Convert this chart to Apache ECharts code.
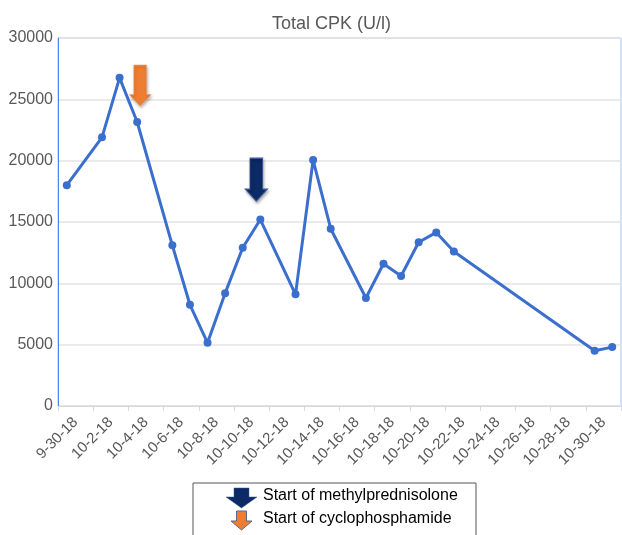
<!DOCTYPE html>
<html>
<head>
<meta charset="utf-8">
<script src="https://cdn.jsdelivr.net/npm/echarts@6/dist/echarts.min.js"></script>
<style>
html,body{margin:0;padding:0;background:#fff;}
#chart{width:622px;height:535px;}
</style>
</head>
<body>
<div id="chart"></div>
<script>
// Days on the date axis (one category per day)
var days = ['9-30-18','10-1-18','10-2-18','10-3-18','10-4-18','10-5-18','10-6-18','10-7-18',
  '10-8-18','10-9-18','10-10-18','10-11-18','10-12-18','10-13-18','10-14-18','10-15-18',
  '10-16-18','10-17-18','10-18-18','10-19-18','10-20-18','10-21-18','10-22-18','10-23-18',
  '10-24-18','10-25-18','10-26-18','10-27-18','10-28-18','10-29-18','10-30-18','10-31-18'];
// Total CPK (U/l); null = no measurement that day
var cpk = [18000, null, 21900, 26750, 23150, null, 13100, 8250,
  5150, 9200, 12900, 15200, null, 9100, 20050, 14450,
  null, 8800, 11600, 10600, 13350, 14150, 12600, null,
  null, null, null, null, null, null, 4500, 4800];
// Tick labels (every 2 days)
var tickLabels = ['9-30-18','10-2-18','10-4-18','10-6-18','10-8-18','10-10-18','10-12-18','10-14-18',
  '10-16-18','10-18-18','10-20-18','10-22-18','10-24-18','10-26-18','10-28-18','10-30-18'];
var yTicks = [0, 5000, 10000, 15000, 20000, 25000, 30000];
// Treatment start markers
var cycloDay = '10-4-18', cycloLevel = 26130;
var methylDay = '10-11-18', methylLevel = 18450;
var legendItems = ['Start of methylprednisolone', 'Start of cyclophosphamide'];

var FONT = 'Liberation Sans, Arial, Helvetica, sans-serif';
var arrowPath = 'path://M21,0 L79,0 L79,72 L100,72 L50,100 L0,72 L21,72 Z';

var chart = echarts.init(document.getElementById('chart'), null, {renderer: 'canvas'});
chart.setOption({
  animation: false,
  backgroundColor: '#ffffff',
  textStyle: {fontFamily: FONT},
  title: {
    text: 'Total CPK (U/l)',
    left: 267, top: 10,
    textStyle: {fontFamily: FONT, fontSize: 18, fontWeight: 'normal', color: '#595959'}
  },
  grid: {
    left: 58, right: 1, top: 38, bottom: 129,
    show: true, borderColor: '#a9c4f0', borderWidth: 1, backgroundColor: 'transparent'
  },
  xAxis: [{
    type: 'category', data: days, boundaryGap: true, position: 'bottom',
    axisLine: {show: false}, axisTick: {show: false}, axisLabel: {show: false},
    splitLine: {show: false}
  }, {
    type: 'category', data: tickLabels, boundaryGap: true, position: 'bottom',
    axisLine: {show: true, lineStyle: {color: '#d9d9d9', width: 1}},
    axisTick: {show: true, length: 5, lineStyle: {color: '#d9d9d9'}},
    axisLabel: {rotate: 45, margin: 14, fontSize: 15, color: '#595959', fontFamily: FONT, interval: 0},
    splitLine: {show: false}
  }],
  yAxis: {
    type: 'value', min: 0, max: 30000, interval: 5000,
    axisLine: {show: true, lineStyle: {color: '#4a86e8', width: 1}},
    axisTick: {show: false},
    axisLabel: {fontSize: 16, color: '#595959', margin: 5, fontFamily: FONT,
      formatter: function (v) { return String(v); }},
    splitLine: {show: true, lineStyle: {color: '#e3e3e3', width: 1.5}}
  },
  series: [{
    type: 'line', xAxisIndex: 0, data: cpk, connectNulls: true,
    symbol: 'circle', symbolSize: 8, showSymbol: true,
    lineStyle: {color: '#3b6fce', width: 3},
    itemStyle: {color: '#3b6fce'},
    markPoint: {
      silent: true,
      label: {show: false},
      data: [{
        coord: [cycloDay, cycloLevel], symbol: arrowPath, symbolSize: [22, 41], symbolOffset: [3, 0],
        itemStyle: {color: '#ed7d31', borderColor: '#f4a26b', borderWidth: 0.5,
          shadowBlur: 3, shadowColor: 'rgba(0,0,0,0.3)', shadowOffsetX: 1, shadowOffsetY: 2}
      }, {
        coord: [methylDay, methylLevel], symbol: arrowPath, symbolSize: [22, 43], symbolOffset: [-4, 0],
        itemStyle: {color: '#0b2a66', borderColor: '#3a5a9a', borderWidth: 1,
          shadowBlur: 3, shadowColor: 'rgba(0,0,0,0.3)', shadowOffsetX: 1, shadowOffsetY: 2}
      }]
    }
  }],
  graphic: [{
    type: 'rect', x: 193, y: 483,
    shape: {x: 0, y: 0, width: 283, height: 60},
    style: {fill: '#ffffff', stroke: '#555555', lineWidth: 1}
  }, {
    type: 'polygon', x: 226, y: 488,
    shape: {points: [[8,0],[23,0],[23,9],[31,9],[15.5,20],[0,9],[8,9]]},
    style: {fill: '#0b2a66', stroke: '#3a5a9a', lineWidth: 0.5}
  }, {
    type: 'text', x: 263, y: 488,
    style: {text: legendItems[0], font: '16px ' + FONT, fill: '#000000'}
  }, {
    type: 'polygon', x: 231, y: 511,
    shape: {points: [[5.5,0],[15.5,0],[15.5,10],[21,10],[10.5,19],[0,10],[5.5,10]]},
    style: {fill: '#ed7d31', stroke: '#5a6a8a', lineWidth: 1}
  }, {
    type: 'text', x: 263, y: 511,
    style: {text: legendItems[1], font: '16px ' + FONT, fill: '#000000'}
  }]
});
</script>
</body>
</html>
